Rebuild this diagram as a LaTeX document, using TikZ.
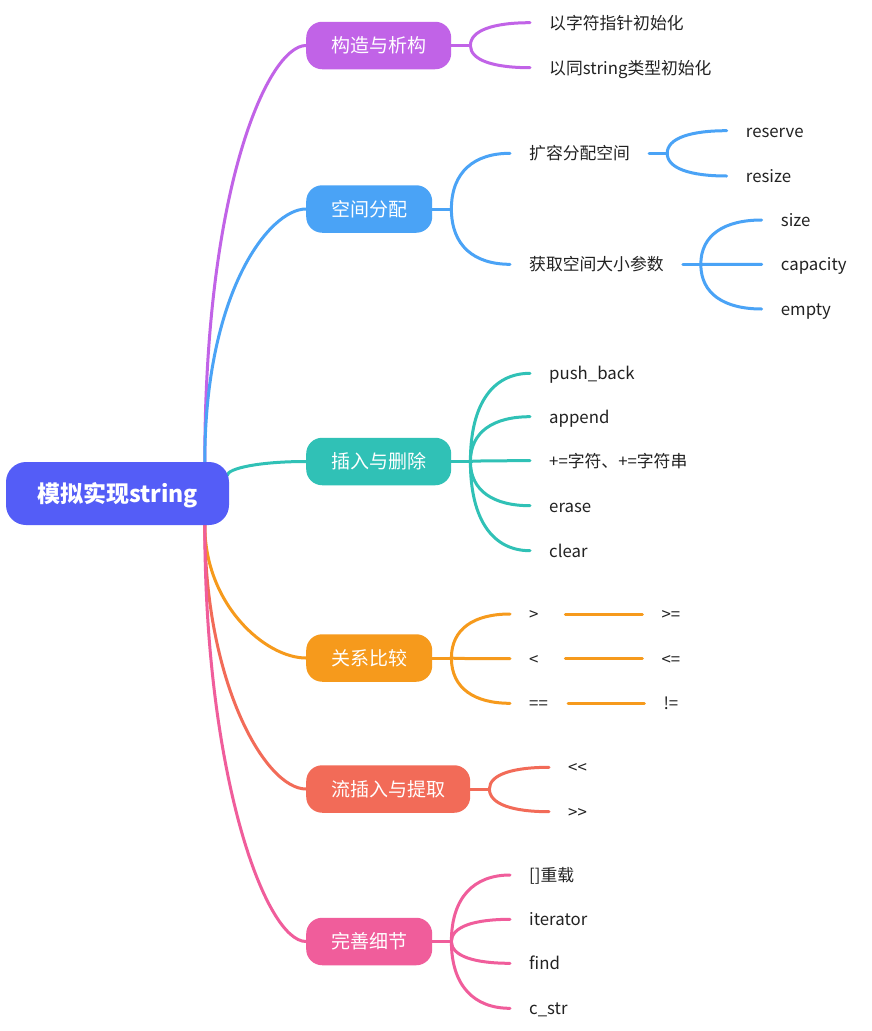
\documentclass[tikz,border=0pt]{standalone}
\usepackage{fontspec}
\setmainfont{Noto Sans CJK SC}
\usetikzlibrary{calc}
\definecolor{cRoot}{HTML}{545DF7}
\definecolor{cPur}{HTML}{C163E7}
\definecolor{cBlu}{HTML}{4AA3F6}
\definecolor{cTea}{HTML}{30C1B6}
\definecolor{cOra}{HTML}{F69A1C}
\definecolor{cRed}{HTML}{F26B58}
\definecolor{cPnk}{HTML}{F05D9B}
\definecolor{cTxt}{HTML}{222222}
\pgfdeclarelayer{bg}
\pgfsetlayers{bg,main}
\newcommand\mmcurve[5]{\draw[wire,#1] (#2) .. controls ($(#2)!#4!(#2 |- #3)$) and ($(#2 |- #3)!#5!(#3)$) .. (#3);}
\begin{document}
\begin{tikzpicture}[x=1pt,y=-1pt,
  wire/.style={line width=3pt,line cap=round},
  rootbox/.style={rounded corners=20pt,fill=cRoot,text=white,minimum width=223pt,minimum height=63pt,inner sep=0pt,text height=19pt,text depth=1.6pt,font=\fontsize{23}{27}\selectfont\bfseries},
  topic/.style={rounded corners=16pt,text=white,minimum height=47.5pt,inner xsep=25pt,inner ysep=0pt,anchor=west,text height=15.7pt,text depth=1.3pt,font=\fontsize{19}{23}\selectfont},
  leaf/.style={anchor=west,inner xsep=19pt,inner ysep=2pt,text=cTxt,text height=13.9pt,text depth=1.2pt,font=\fontsize{16.8}{20}\selectfont}]
\useasboundingbox (0,0) rectangle (871,1031);
\begin{pgfonlayer}{bg}
\fill[white] (0,0) rectangle (871,1031);
\end{pgfonlayer}
% root and topics
\node[rootbox] (root) at (117.5,493.5) {模拟实现string};
\node[topic,fill=cPur] (t1) at (306,45.5) {构造与析构};
\node[topic,fill=cBlu] (t2) at (306,209) {空间分配};
\node[topic,fill=cTea] (t3) at (306,461.5) {插入与删除};
\node[topic,fill=cOra] (t4) at (306,658) {关系比较};
\node[topic,fill=cRed] (t5) at (306,789) {流插入与提取};
\node[topic,fill=cPnk] (t6) at (306,941.5) {完善细节};
% leaves
\node[leaf] (a1) at (530,22.7) {以字符指针初始化};
\node[leaf] (a2) at (530,67.7) {以同string类型初始化};
\node[leaf] (b1) at (510,153.3) {扩容分配空间};
\node[leaf] (b2) at (510,264.3) {获取空间大小参数};
\node[leaf] (b11) at (726.7,130.7) {reserve};
\node[leaf] (b12) at (726.7,176) {resize};
\node[leaf] (b21) at (761.7,220) {size};
\node[leaf] (b22) at (761.7,264.3) {capacity};
\node[leaf] (b23) at (761.7,309) {empty};
\node[leaf] (c1) at (530,373.3) {push\_back};
\node[leaf] (c2) at (530,416.7) {append};
\node[leaf] (c3) at (530,460.7) {+=字符、+=字符串};
\node[leaf] (c4) at (530,505.7) {erase};
\node[leaf] (c5) at (530,550.7) {clear};
\node[leaf,text width=17pt,align=left] (d1) at (510,614) {>};
\node[leaf,text width=17pt,align=left] (d2) at (510,658.7) {<};
\node[leaf,text width=19.7pt,align=left] (d3) at (510,703.3) {==};
\node[leaf] (d1r) at (642.3,614) {>=};
\node[leaf] (d2r) at (642.3,658.7) {<=};
\node[leaf] (d3r) at (644.3,703.3) {!=};
\node[leaf] (e1) at (549,767.3) {<\kern0pt<};
\node[leaf] (e2) at (549,811.7) {>\kern0pt>};
\node[leaf] (g1) at (510,875) {[]重载};
\node[leaf] (g2) at (510,919.3) {iterator};
\node[leaf] (g3) at (510,963.3) {find};
\node[leaf] (g4) at (510,1008.3) {c\_str};
% helper coordinates
\coordinate (rt) at ($(root.north west)+(199,0)$);
\coordinate (rb) at ($(root.south west)+(199,0)$);
\coordinate (rr) at ($(root.east)+(-2,-18)$);
\coordinate (f1) at ($(t1.east)+(19,0)$);
\coordinate (f2) at ($(t2.east)+(19,0)$);
\coordinate (f3) at ($(t3.east)+(19,0)$);
\coordinate (f4) at ($(t4.east)+(19,0)$);
\coordinate (f5) at ($(t5.east)+(19,0)$);
\coordinate (f6) at ($(t6.east)+(19,0)$);
\coordinate (fb1) at ($(b1.east)+(18,0)$);
\coordinate (fb2) at ($(b2.east)+(18,0)$);
\begin{pgfonlayer}{bg}
% root branches
\mmcurve{cPur}{rt}{t1.west}{0.667}{0.633}
\mmcurve{cBlu}{rt}{t2.west}{0.667}{0.633}
\mmcurve{cTea}{rr}{t3.west}{0.5}{0.4}
\mmcurve{cOra}{rb}{t4.west}{0.6}{0.6}
\mmcurve{cRed}{rb}{t5.west}{0.6}{0.6}
\mmcurve{cPnk}{rb}{t6.west}{0.6}{0.6}
% stems
\draw[wire,cPur] (t1.east) -- (f1);
\draw[wire,cBlu] (t2.east) -- (f2);
\draw[wire,cTea] (t3.east) -- (f3);
\draw[wire,cOra] (t4.east) -- (f4);
\draw[wire,cRed] (t5.east) -- (f5);
\draw[wire,cPnk] (t6.east) -- (f6);
\draw[wire,cBlu] (b1.east) -- (fb1);
\draw[wire,cBlu] (b2.east) -- (fb2);
% forks
\mmcurve{cPur}{f1}{a1.west}{0.667}{0.39}
\mmcurve{cPur}{f1}{a2.west}{0.667}{0.39}
\mmcurve{cBlu}{f2}{b1.west}{0.667}{0.39}
\mmcurve{cBlu}{f2}{b2.west}{0.667}{0.39}
\mmcurve{cBlu}{fb1}{b11.west}{0.667}{0.39}
\mmcurve{cBlu}{fb1}{b12.west}{0.667}{0.39}
\mmcurve{cBlu}{fb2}{b21.west}{0.667}{0.39}
\mmcurve{cBlu}{fb2}{b22.west}{0.667}{0.39}
\mmcurve{cBlu}{fb2}{b23.west}{0.667}{0.39}
\mmcurve{cTea}{f3}{c1.west}{0.667}{0.39}
\mmcurve{cTea}{f3}{c2.west}{0.667}{0.39}
\mmcurve{cTea}{f3}{c3.west}{0.667}{0.39}
\mmcurve{cTea}{f3}{c4.west}{0.667}{0.39}
\mmcurve{cTea}{f3}{c5.west}{0.667}{0.39}
\mmcurve{cOra}{f4}{d1.west}{0.667}{0.39}
\mmcurve{cOra}{f4}{d2.west}{0.667}{0.39}
\mmcurve{cOra}{f4}{d3.west}{0.667}{0.39}
\draw[wire,cOra] (d1.east) -- (d1r.west);
\draw[wire,cOra] (d2.east) -- (d2r.west);
\draw[wire,cOra] (d3.east) -- (d3r.west);
\mmcurve{cRed}{f5}{e1.west}{0.667}{0.39}
\mmcurve{cRed}{f5}{e2.west}{0.667}{0.39}
\mmcurve{cPnk}{f6}{g1.west}{0.667}{0.39}
\mmcurve{cPnk}{f6}{g2.west}{0.667}{0.39}
\mmcurve{cPnk}{f6}{g3.west}{0.667}{0.39}
\mmcurve{cPnk}{f6}{g4.west}{0.667}{0.39}
\end{pgfonlayer}
\end{tikzpicture}
\end{document}
